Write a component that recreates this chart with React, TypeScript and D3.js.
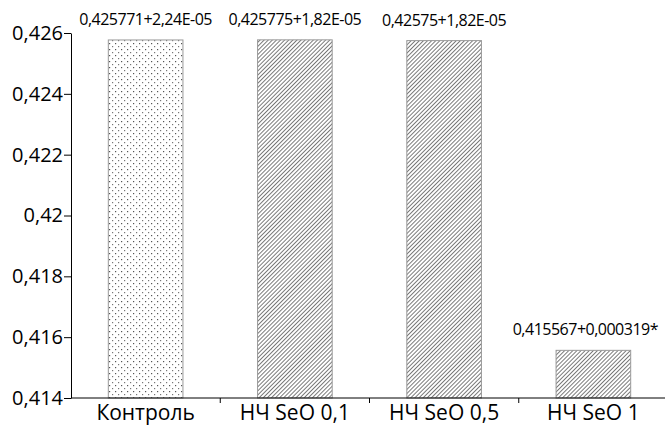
import React, { useEffect, useRef } from "react";
import * as d3 from "d3";

const categories = ["Контроль", "НЧ SeO 0,1", "НЧ SeO 0,5", "НЧ SeO 1"];
const values = [0.425771, 0.425775, 0.42575, 0.415567];
const valueLabels = [
  "0,425771+2,24E-05",
  "0,425775+1,82E-05",
  "0,42575+1,82E-05",
  "0,415567+0,000319*",
];
const yTicks = [0.414, 0.416, 0.418, 0.42, 0.422, 0.424, 0.426];

const App = () => {
  const ref = useRef<SVGSVGElement>(null);

  useEffect(() => {
    const svg = d3.select(ref.current);
    svg.selectAll("*").remove();
    const width = 665;
    const height = 426;
    const marginLeft = 71;
    const marginRight = -3;
    const marginTop = 33;
    const marginBottom = 28;
    const font = "'Open Sans', sans-serif";

    const defs = svg.append("defs");
    const dots = defs
      .append("pattern")
      .attr("id", "dots")
      .attr("patternUnits", "userSpaceOnUse")
      .attr("width", 6)
      .attr("height", 6);
    dots.append("rect").attr("x", 1).attr("y", 1).attr("width", 1.2).attr("height", 1.2).attr("fill", "#555");
    dots.append("rect").attr("x", 4).attr("y", 4).attr("width", 1.2).attr("height", 1.2).attr("fill", "#777");

    const hatch = defs
      .append("pattern")
      .attr("id", "hatch")
      .attr("patternUnits", "userSpaceOnUse")
      .attr("width", 2.9)
      .attr("height", 2.9)
      .attr("patternTransform", "rotate(45)");
    hatch
      .append("line")
      .attr("x1", 0)
      .attr("y1", 0)
      .attr("x2", 0)
      .attr("y2", 3)
      .attr("stroke", "#222")
      .attr("stroke-width", 1.2);

    const x = d3
      .scaleBand()
      .domain(categories)
      .range([marginLeft, width - marginRight])
      .paddingInner(0.5)
      .paddingOuter(0.25);

    const y = d3
      .scaleLinear()
      .domain([0.414, 0.426])
      .range([height - marginBottom, marginTop]);

    svg
      .attr("width", width)
      .attr("height", height)
      .style("position", "absolute")
      .style("left", "0px")
      .style("top", "0px")
      .style("background", "#fff");

    const data = categories.map((c, i) => ({ c, v: values[i], label: valueLabels[i] }));

    svg
      .append("g")
      .selectAll("rect")
      .data(data)
      .join("rect")
      .attr("x", (d) => x(d.c)!)
      .attr("y", (d) => y(d.v))
      .attr("width", x.bandwidth())
      .attr("height", (d) => y(0.414) - y(d.v))
      .attr("fill", (d, i) => (i === 0 ? "url(#dots)" : "url(#hatch)"))
      .attr("stroke", "#999")
      .attr("stroke-width", 1);

    svg
      .append("g")
      .selectAll("text")
      .data(data)
      .join("text")
      .attr("x", (d, i) => x(d.c)! + x.bandwidth() / 2 + (i === 3 ? -8 : 0))
      .attr("y", (d) => y(d.v) - 15)
      .attr("text-anchor", "middle")
      .attr("font-family", font)
      .attr("font-size", 16)
      .attr("letter-spacing", -0.5)
      .text((d) => d.label);

    // y axis
    svg
      .append("g")
      .attr("transform", `translate(${marginLeft},0)`)
      .call(
        d3
          .axisLeft(y)
          .tickValues(yTicks)
          .tickSize(7)
          .tickPadding(1)
          .tickSizeOuter(0)
          .tickFormat((v) => String(+(+v).toFixed(3)).replace(".", ","))
      )
      .call((g) => g.selectAll("text").attr("font-family", font).attr("font-size", 20).attr("fill", "#000"))
      .call((g) => g.selectAll("line, path").attr("stroke", "#000"));

    // x axis
    const step = x.step();
    const boundaries = categories.slice(1).map((c) => x(c)! - (step * 0.5) / 2);
    const gx = svg.append("g").attr("transform", `translate(0,${y(0.414)})`);
    gx.append("line")
      .attr("x1", marginLeft)
      .attr("x2", width)
      .attr("stroke", "#000");
    gx.selectAll(".tk")
      .data(boundaries)
      .join("line")
      .attr("x1", (d) => d)
      .attr("x2", (d) => d)
      .attr("y1", 0)
      .attr("y2", 5)
      .attr("stroke", "#000");
    gx.selectAll("text")
      .data(categories)
      .join("text")
      .attr("x", (d) => x(d)! + x.bandwidth() / 2)
      .attr("y", 22)
      .attr("text-anchor", "middle")
      .attr("font-family", font)
      .attr("font-size", 21)
      .text((d) => d);
  }, []);

  return <svg ref={ref} />;
};

export default App;
